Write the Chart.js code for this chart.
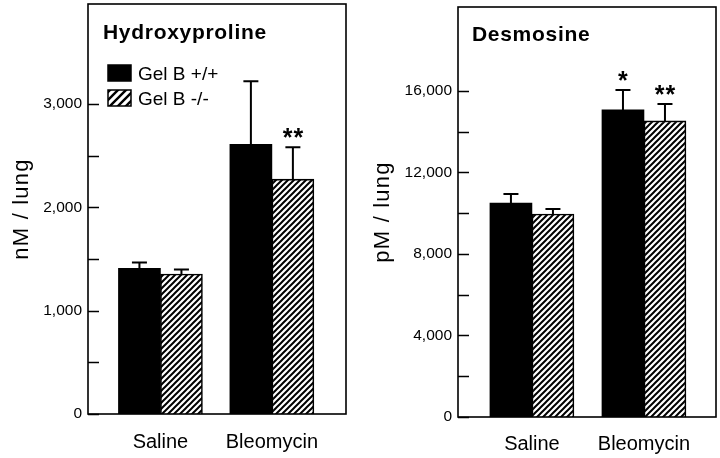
<!DOCTYPE html>
<html><head><meta charset="utf-8">
<script src="https://cdn.jsdelivr.net/npm/chart.js@4.4.0/dist/chart.umd.min.js"></script>
<style>
html,body{margin:0;padding:0;background:#fff;}
#wrap{position:relative;width:720px;height:458px;background:#fff;}
.panel{position:absolute;top:0;width:360px;height:458px;}
</style></head><body>
<div id="wrap">
<div class="panel" style="left:0"><canvas id="c1" width="360" height="458"></canvas></div>
<div class="panel" style="left:360px"><canvas id="c2" width="360" height="458"></canvas></div>
</div>
<script>
// ---- data ----
const categories = ['Saline', 'Bleomycin'];
const seriesNames = ['Gel B +/+', 'Gel B -/-'];

const hypTitle = 'Hydroxyproline';
const hypAxisTitle = 'nM / lung';
const hypWT = [1410, 2610];
const hypWTErr = [58, 613];
const hypKO = [1355, 2274];
const hypKOErr = [45, 310];
const hypWTMarks = ['', ''];
const hypKOMarks = ['', '**'];
const hypTicks = [0, 500, 1000, 1500, 2000, 2500, 3000];
const hypLabelEvery = 1000;

const desTitle = 'Desmosine';
const desAxisTitle = 'pM / lung';
const desWT = [10500, 15070];
const desWTErr = [445, 980];
const desKO = [9960, 14530];
const desKOErr = [250, 830];
const desWTMarks = ['', '*'];
const desKOMarks = ['', '**'];
const desTicks = [0, 2000, 4000, 6000, 8000, 10000, 12000, 14000, 16000];
const desLabelEvery = 4000;

// ---- rendering ----
const FAM = "'Liberation Sans', Arial, Helvetica, sans-serif";
Chart.defaults.font.family = FAM;
Chart.defaults.color = '#000';

function makeHatch(ctx, p, lw) {
  const c = document.createElement('canvas');
  c.width = p; c.height = p;
  const g = c.getContext('2d');
  g.fillStyle = '#fff'; g.fillRect(0, 0, p, p);
  g.strokeStyle = '#000'; g.lineWidth = lw;
  g.beginPath();
  g.moveTo(0, p); g.lineTo(p, 0);
  g.moveTo(-p / 2, p / 2); g.lineTo(p / 2, -p / 2);
  g.moveTo(p / 2, 1.5 * p); g.lineTo(1.5 * p, p / 2);
  g.stroke();
  return ctx.createPattern(c, 'repeat');
}

const panelPlugin = {
  id: 'panel',
  afterDatasetsDraw(chart) {
    const P = chart.options.plugins.panel;
    const ctx = chart.ctx, area = chart.chartArea, ys = chart.scales.y;
    ctx.save();
    // error bars and significance marks
    chart.data.datasets.forEach((ds, di) => {
      const meta = chart.getDatasetMeta(di);
      meta.data.forEach((bar, i) => {
        const top = ys.getPixelForValue(ds.data[i].y + ds.errors[i]);
        ctx.strokeStyle = '#000'; ctx.lineWidth = 2;
        ctx.beginPath();
        ctx.moveTo(bar.x, bar.y); ctx.lineTo(bar.x, top);
        ctx.moveTo(bar.x - 7.5, top); ctx.lineTo(bar.x + 7.5, top);
        ctx.stroke();
        if (ds.marks[i]) {
          ctx.fillStyle = '#000';
          ctx.font = 'bold 25px ' + FAM;
          ctx.letterSpacing = '1px';
          ctx.textAlign = 'center'; ctx.textBaseline = 'alphabetic';
          ctx.fillText(ds.marks[i], bar.x + 0.5, top - 1);
          ctx.letterSpacing = '0px';
        }
      });
    });
    // frame
    ctx.strokeStyle = '#000'; ctx.lineWidth = 1.6;
    ctx.strokeRect(area.left, area.top, area.right - area.left, area.bottom - area.top);
    // inward tick marks
    ctx.lineWidth = 1.4;
    ctx.beginPath();
    P.ticks.forEach(v => {
      const y = Math.round(ys.getPixelForValue(v)) + 0.5;
      ctx.moveTo(area.left, y); ctx.lineTo(area.left + 11, y);
    });
    ctx.stroke();
    // panel title
    ctx.fillStyle = '#000';
    ctx.font = 'bold 21px ' + FAM;
    ctx.letterSpacing = '0.7px';
    ctx.textAlign = 'left'; ctx.textBaseline = 'alphabetic';
    ctx.fillText(P.title, P.titleX, P.titleY);
    // y-axis title
    ctx.save();
    ctx.font = '22px ' + FAM;
    ctx.letterSpacing = '1.2px';
    ctx.translate(P.yTitleX, (area.top + area.bottom) / 2);
    ctx.rotate(-Math.PI / 2);
    ctx.textAlign = 'center';
    ctx.fillText(P.axisTitle, 0, 0);
    ctx.restore();
    ctx.letterSpacing = '0px';
    // legend
    if (P.legend) {
      const lx = 108, lw = 23, lh = 16;
      const rows = [65, 90];
      chart.data.datasets.forEach((ds, di) => {
        const y = rows[di];
        ctx.fillStyle = di === 0 ? '#000' : P.legendHatch;
        ctx.fillRect(lx, y, lw, lh);
        ctx.strokeStyle = '#000'; ctx.lineWidth = 1.5;
        ctx.strokeRect(lx, y, lw, lh);
        ctx.fillStyle = '#000';
        ctx.font = '19px ' + FAM;
        ctx.textAlign = 'left'; ctx.textBaseline = 'alphabetic';
        ctx.fillText(ds.label, 138, y + 15);
      });
    }
    ctx.restore();
  }
};

function makePanel(id, P) {
  const canvas = document.getElementById(id);
  const ctx = canvas.getContext('2d');
  const hatch = makeHatch(ctx, 6, 2);
  P.legendHatch = makeHatch(ctx, 8, 2.4);
  const toPts = arr => arr.map((v, i) => ({ x: i, y: v }));
  return new Chart(ctx, {
    type: 'bar',
    data: {
      datasets: [
        { label: seriesNames[0], data: toPts(P.wt), errors: P.wtErr, marks: P.wtMarks,
          backgroundColor: '#000', borderColor: '#000', borderWidth: 0, barThickness: 42 },
        { label: seriesNames[1], data: toPts(P.ko), errors: P.koErr, marks: P.koMarks,
          backgroundColor: hatch, borderColor: '#000', borderWidth: 1.6, barThickness: 42 }
      ]
    },
    options: {
      responsive: false, animation: false, devicePixelRatio: 1,
      layout: { padding: { left: 0, top: P.padTop, right: P.padRight, bottom: 0 } },
      plugins: { legend: { display: false }, tooltip: { enabled: false }, panel: P },
      scales: {
        x: {
          type: 'linear', min: P.xMin, max: P.xMax, offset: false,
          grid: { display: false, drawTicks: false }, border: { display: false },
          afterBuildTicks: s => { s.ticks = categories.map((c, i) => ({ value: i })); },
          ticks: { callback: (v, i) => categories[i], font: { size: 20 }, color: '#000',
                   padding: P.xPad, autoSkip: false, maxRotation: 0 },
          afterFit: s => { s.height = P.xHeight; s.paddingLeft = 0; s.paddingRight = 0; }
        },
        y: {
          min: 0, max: P.yMax,
          grid: { display: false, drawTicks: false }, border: { display: false },
          afterBuildTicks: s => { s.ticks = P.ticks.map(v => ({ value: v })); },
          ticks: { callback: v => (v % P.labelEvery === 0 ? v.toLocaleString('en-US') : ''),
                   font: { size: 15.5 }, color: '#000', padding: 6, autoSkip: false },
          afterFit: s => { s.width = P.yWidth; s.paddingTop = 0; s.paddingBottom = 0; }
        }
      }
    },
    plugins: [panelPlugin]
  });
}

makePanel('c1', {
  title: hypTitle, axisTitle: hypAxisTitle, titleX: 103, titleY: 39, yTitleX: 28,
  wt: hypWT, wtErr: hypWTErr, ko: hypKO, koErr: hypKOErr, wtMarks: hypWTMarks, koMarks: hypKOMarks,
  ticks: hypTicks, labelEvery: hypLabelEvery, yMax: 3970,
  xMin: -0.65, xMax: 1.665, padTop: 4, padRight: 14, yWidth: 88, xHeight: 44, xPad: 16,
  legend: true
});
makePanel('c2', {
  title: desTitle, axisTitle: desAxisTitle, titleX: 112, titleY: 41, yTitleX: 29,
  wt: desWT, wtErr: desWTErr, ko: desKO, koErr: desKOErr, wtMarks: desWTMarks, koMarks: desKOMarks,
  ticks: desTicks, labelEvery: desLabelEvery, yMax: 20120,
  xMin: -0.66, xMax: 1.643, padTop: 7, padRight: 4, yWidth: 98, xHeight: 41, xPad: 15,
  legend: false
});
</script>
</body></html>
